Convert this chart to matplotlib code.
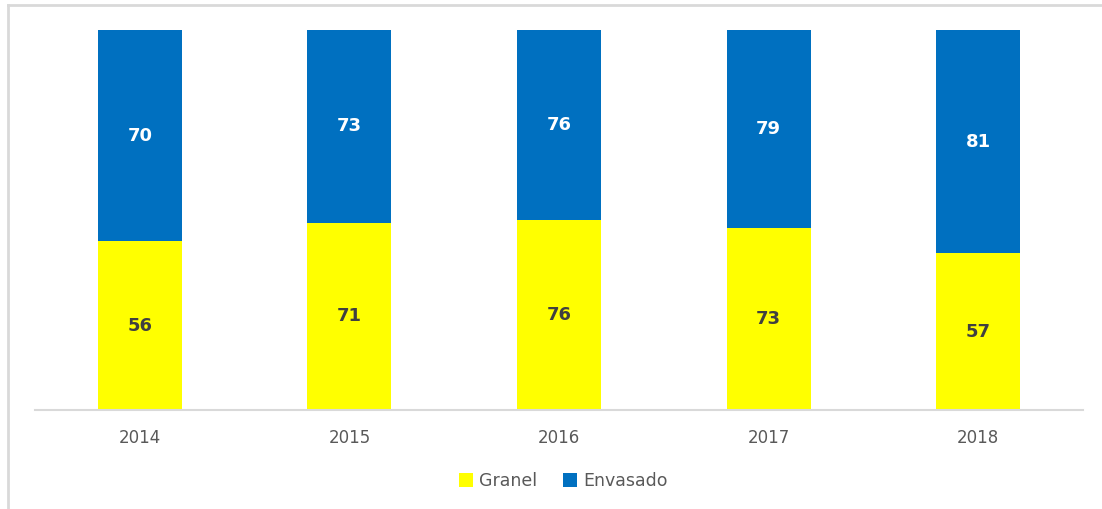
import matplotlib.pyplot as plt
from matplotlib.lines import Line2D
import numpy as np

YEARS = ["2014", "2015", "2016", "2017", "2018"]
GRANEL = [56, 71, 76, 73, 57]
ENVASADO = [70, 73, 76, 79, 81]

YELLOW = "#ffff00"
BLUE = "#0070c0"

fig = plt.figure(figsize=(11.02, 5.09), dpi=100)
ax = fig.add_axes([35 / 1102, 99 / 509, 1048 / 1102, 380 / 509])

x = np.arange(len(YEARS))
granel = np.array(GRANEL, dtype=float)
envasado = np.array(ENVASADO, dtype=float)
total = granel + envasado
g_share = granel / total
e_share = envasado / total

ax.bar(x, g_share, width=0.4, color=YELLOW, label="Granel")
ax.bar(x, e_share, width=0.4, bottom=g_share, color=BLUE, label="Envasado")

for i in range(len(YEARS)):
    ax.text(x[i], g_share[i] / 2, str(GRANEL[i]), ha="center", va="center",
            fontsize=13, fontweight="bold", color="#404040")
    ax.text(x[i], g_share[i] + e_share[i] / 2, str(ENVASADO[i]), ha="center",
            va="center", fontsize=13, fontweight="bold", color="white")

ax.set_xlim(-0.5, len(YEARS) - 0.5)
ax.set_ylim(0, 1)
ax.set_xticks(x)
ax.set_xticklabels(YEARS, fontsize=12, color="#595959")
ax.tick_params(axis="x", length=0, pad=14)
ax.set_yticks([])
for side in ["top", "right", "left"]:
    ax.spines[side].set_visible(False)
ax.spines["bottom"].set_color("#d9d9d9")
ax.spines["bottom"].set_linewidth(1.5)

leg = fig.legend(loc="center", bbox_to_anchor=(563 / 1102, 28 / 509), ncol=2, frameon=False,
                 fontsize=12.5, handlelength=0.8, handleheight=0.8, handletextpad=0.35,
                 columnspacing=1.5)
for t in leg.get_texts():
    t.set_color("#595959")

# chart frame (left and top edges)
fig.add_artist(Line2D([8 / 1102, 8 / 1102], [0, 1 - 5 / 509], transform=fig.transFigure,
                      color="#d9d9d9", lw=2))
fig.add_artist(Line2D([8 / 1102, 1], [1 - 5 / 509, 1 - 5 / 509], transform=fig.transFigure,
                      color="#d9d9d9", lw=2))

fig.savefig("out.png", dpi=100)
